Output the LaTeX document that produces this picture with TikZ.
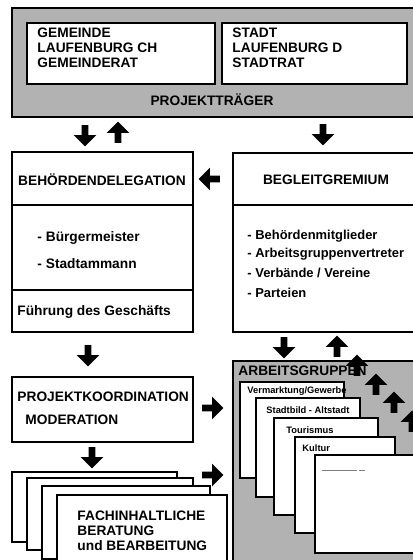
\documentclass[tikz,border=0pt]{standalone}
\usepackage{fontspec}
\setmainfont{Liberation Sans}
\usetikzlibrary{shapes.arrows}

\definecolor{panelgray}{RGB}{178,178,178}

\tikzset{every picture/.style={line width=2.2pt}}
\tikzset{
  blockarrow/.style={single arrow, fill=black, draw=none, inner sep=0pt,
    minimum width=17pt, minimum height=16pt,
    single arrow head extend=2.5pt, single arrow head indent=0pt},
  boxtext/.style={anchor=west, inner sep=0.75pt, font=\fontsize{10.3}{11.3}\selectfont\bfseries},
  listtext/.style={boxtext, font=\fontsize{9.7}{11}\selectfont\bfseries},
  cardtext/.style={anchor=west, inner sep=0.75pt, font=\fontsize{7}{8.5}\selectfont\bfseries},
}

\begin{document}
\begin{tikzpicture}[x=0.75pt,y=0.75pt,yscale=-1,xscale=1]
\useasboundingbox (0,0) rectangle (412,560);

%Projekttraeger
\draw [fill=panelgray] (12,8) rectangle (430,117);
\draw [fill=white] (27,23) rectangle (215,84);
\draw [fill=white] (222,23) rectangle (407,84);
\node [boxtext, anchor=north west, align=left] (gemeinde) at (35,25) {GEMEINDE\\LAUFENBURG CH\\GEMEINDERAT};
\node [boxtext, anchor=north west, align=left] (stadt) at (230,25) {STADT\\LAUFENBURG D\\STADTRAT};
\node [boxtext, anchor=center] (traeger) at (212,100) {PROJEKTTRÄGER};

%Behoerdendelegation
\draw (12,152) rectangle (193,332);
\draw (12,205) -- (193,205);
\draw (12,290) -- (193,290);
\node [boxtext, anchor=center] (behoerde) at (102,180) {BEHÖRDENDELEGATION};
\node [boxtext] (buerger) at (35,238) {- Bürgermeister};
\node [boxtext] (ammann) at (35,264) {- Stadtammann};
\node [boxtext] (fuehrung) at (15,312) {Führung des Geschäfts};

%Begleitgremium
\draw (233,153) rectangle (430,332);
\draw (233,205) -- (430,205);
\node [boxtext, anchor=center] (begleit) at (326,180) {BEGLEITGREMIUM};
\node [listtext] (mitglied) at (245,236) {- Behördenmitglieder};
\node [listtext] (vertreter) at (245,254) {- Arbeitsgruppenvertreter};
\node [listtext] (verbaende) at (245,273) {- Verbände / Vereine};
\node [listtext] (parteien) at (245,293) {- Parteien};

%Projektkoordination
\draw [fill=white] (12,377) rectangle (193,442);
\node [boxtext] (koord) at (15,397) {PROJEKTKOORDINATION};
\node [boxtext] (moder) at (23,420) {MODERATION};

%Fachinhaltliche Beratung (stack)
\foreach \l/\t/\r/\b in {12/472/177/542, 27/478/193/550, 42/486/210/559, 57/495/227/575}
  \draw [fill=white] (\l,\t) rectangle (\r,\b);
\node [boxtext, anchor=north west, align=left] (fach) at (75,508) {FACHINHALTLICHE\\BERATUNG\\und BEARBEITUNG};

%Arbeitsgruppen
\draw [fill=panelgray] (233,361) rectangle (430,580);
\node [boxtext] (arbeit) at (236,371) {ARBEITSGRUPPEN};
\foreach \l/\t/\r/\b in {240/382/344/478, 256/398/360/497, 274/418/378/515, 295/437/395/533, 315/455/430/553}
  \draw [fill=white] (\l,\t) rectangle (\r,\b);
\node [cardtext] (ag1) at (245,391) {Vermarktung/Gewerbe};
\node [cardtext] (ag2) at (264,410) {Stadtbild - Altstadt};
\node [cardtext] (ag3) at (284,430) {Tourismus};
\node [cardtext] (ag4) at (300,448) {Kultur};
\node [cardtext, text=gray] (ag5) at (320,472) {\rule[0.5ex]{26pt}{0.8pt}\,\rule[0.5ex]{5pt}{0.8pt}};

%block arrows
\node [blockarrow, rotate=-90] (ad1) at (85,134) {};
\node [blockarrow, rotate=90] (au1) at (118,134) {};
\node [blockarrow, rotate=-90] (ad2) at (323,133) {};
\node [blockarrow, rotate=180] (al1) at (211,179) {};
\node [blockarrow, rotate=-90] (ad3) at (88,354) {};
\node [blockarrow, rotate=-90] (ad4) at (92,456) {};
\node [blockarrow] (ar1) at (211,408) {};
\node [blockarrow] (ar2) at (211,475) {};
\node [blockarrow, rotate=-90] (ad5) at (284,346) {};
\node [blockarrow, rotate=90] (au2) at (337,348) {};
\node [blockarrow, rotate=90] (au3) at (357,367) {};
\node [blockarrow, rotate=90] (au4) at (376,386) {};
\node [blockarrow, rotate=90] (au5) at (394,404) {};
\node [blockarrow, rotate=90] (au6) at (412,423) {};

\end{tikzpicture}
\end{document}
